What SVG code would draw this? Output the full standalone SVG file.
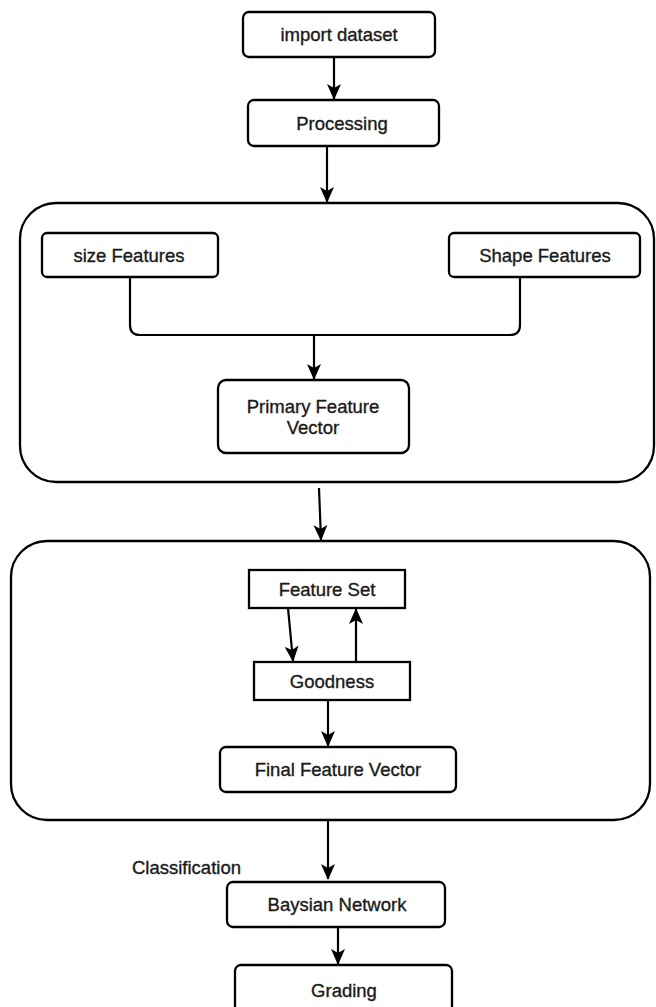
<svg xmlns="http://www.w3.org/2000/svg" width="656" height="1007" viewBox="0 0 656 1007">
<style>
.box{fill:#fff;stroke:#000;stroke-width:2.3}
.grp{fill:none;stroke:#000;stroke-width:2.3}
.lbl{font-family:"Liberation Sans",Arial,sans-serif;font-size:18.5px;fill:#1a1a1a;stroke:#1a1a1a;stroke-width:0.35;text-anchor:middle}
.edge{fill:none;stroke:#000;stroke-width:2.2}
</style>
<defs>
<marker id="arr" viewBox="0 0 16 14" refX="15" refY="7" markerWidth="16" markerHeight="14" markerUnits="userSpaceOnUse" orient="auto">
<path d="M0,0 L16,7 L0,14 L4,7 z" fill="#000"/>
</marker>
</defs>
<rect width="656" height="1007" fill="#fff"/>
<g id="group1"><rect class="grp" x="20" y="203" width="634" height="279" rx="36"/></g>
<g id="group2"><rect class="grp" x="11" y="541" width="639" height="279" rx="36"/></g>
<g id="import-dataset"><rect class="box" x="243" y="12" width="192" height="45" rx="6"/><text class="lbl" x="339" y="41">import dataset</text></g>
<g id="processing"><rect class="box" x="248" y="100" width="191" height="46" rx="6"/><text class="lbl" x="342" y="129.5">Processing</text></g>
<g id="size-features"><rect class="box" x="42" y="233" width="176" height="44" rx="5"/><text class="lbl" x="129" y="261.5">size Features</text></g>
<g id="shape-features"><rect class="box" x="449" y="233" width="191" height="44" rx="5"/><text class="lbl" x="545" y="261.5">Shape Features</text></g>
<g id="primary-feature-vector"><rect class="box" x="218" y="380" width="191" height="73" rx="8"/><text class="lbl" x="313" y="413">Primary Feature</text><text class="lbl" x="313" y="434">Vector</text></g>
<g id="feature-set"><rect class="box" x="249" y="570" width="156" height="38"/><text class="lbl" x="327" y="595.5">Feature Set</text></g>
<g id="goodness"><rect class="box" x="254" y="662" width="156" height="38"/><text class="lbl" x="332" y="688">Goodness</text></g>
<g id="final-feature-vector"><rect class="box" x="220" y="747" width="236" height="45" rx="6"/><text class="lbl" x="338" y="775.5">Final Feature Vector</text></g>
<g id="classification-label"><text class="lbl" x="132" y="874" style="text-anchor:start">Classification</text></g>
<g id="baysian-network"><rect class="box" x="227" y="882" width="218" height="45" rx="6"/><text class="lbl" x="337" y="911">Baysian Network</text></g>
<g id="grading"><rect class="box" x="235" y="965" width="217" height="60" rx="6"/><text class="lbl" x="344" y="996.5">Grading</text></g>
<g id="connectors">
<line class="edge" x1="334" y1="57" x2="334" y2="99" marker-end="url(#arr)"/>
<line class="edge" x1="327" y1="146" x2="327" y2="202" marker-end="url(#arr)"/>
<path class="edge" d="M130,277 V325 Q130,335 140,335 H510 Q520,335 520,325 V277"/>
<line class="edge" x1="314" y1="335" x2="314" y2="379" marker-end="url(#arr)"/>
<line class="edge" x1="319" y1="488" x2="321" y2="540" marker-end="url(#arr)"/>
<line class="edge" x1="288" y1="608" x2="293" y2="661" marker-end="url(#arr)"/>
<line class="edge" x1="356" y1="662" x2="356" y2="609" marker-end="url(#arr)"/>
<line class="edge" x1="328" y1="700" x2="328" y2="746" marker-end="url(#arr)"/>
<line class="edge" x1="328" y1="820" x2="328" y2="879" marker-end="url(#arr)"/>
<line class="edge" x1="338" y1="927" x2="338" y2="964" marker-end="url(#arr)"/>
</g>
</svg>
